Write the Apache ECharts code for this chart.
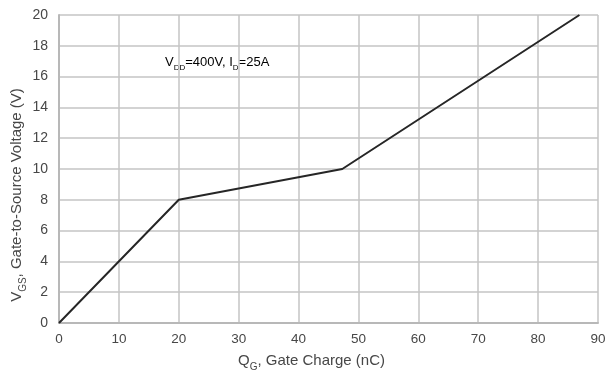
<!DOCTYPE html>
<html>
<head>
<meta charset="utf-8">
<script src="https://cdn.jsdelivr.net/npm/echarts@6/dist/echarts.min.js"></script>
<style>
  html, body { margin: 0; padding: 0; background: #fff; }
  #chart { width: 608px; height: 373px; }
</style>
</head>
<body>
<div id="chart"></div>
<script>
// gate charge curve
var chargeNC = [0, 20, 47.3, 86.9];
var voltageV = [0, 8, 10, 20];
var xTicks = [0, 10, 20, 30, 40, 50, 60, 70, 80, 90];
var yTicks = [0, 2, 4, 6, 8, 10, 12, 14, 16, 18, 20];

var points = chargeNC.map(function (q, i) { return [q, voltageV[i]]; });

var myChart = echarts.init(document.getElementById('chart'));

var font = 'Liberation Sans, Arial, sans-serif';
var txt = '#474747';
var sub = { fontSize: 10, fontFamily: font, color: txt, verticalAlign: 'bottom', padding: [0, 0, -4, 0] };

var option = {
    animation: false,
    grid: {
        left: 59,
        right: 10,
        top: 15,
        bottom: 50,
        outerBoundsMode: 'none',
        containLabel: false
    },
    xAxis: {
        type: 'value',
        min: xTicks[0],
        max: xTicks[xTicks.length - 1],
        interval: 10,
        name: '{a|Q}{s|G}{a|, Gate Charge (nC)}',
        nameLocation: 'middle',
        nameGap: 30,
        nameMoveOverlap: false,
        nameTextStyle: {
            padding: [0, 34, 0, 0],
            rich: {
                a: { fontSize: 15, fontFamily: font, color: txt },
                s: sub
            }
        },
        axisLine: { show: true, lineStyle: { color: '#b8b8b8', width: 2 } },
        axisTick: { show: false },
        axisLabel: { fontSize: 13.5, fontFamily: font, color: txt, margin: 9 },
        splitLine: { show: true, lineStyle: { color: '#c4c4c4', width: 1.5 } }
    },
    yAxis: {
        type: 'value',
        min: yTicks[0],
        max: yTicks[yTicks.length - 1],
        interval: 2,
        name: '{a|V}{s|GS}{a|, Gate-to-Source Voltage (V)}',
        nameLocation: 'middle',
        nameGap: 35,
        nameRotate: 90,
        nameMoveOverlap: false,
        nameTextStyle: {
            padding: [0, 52, 0, 0],
            rich: {
                a: { fontSize: 15, fontFamily: font, color: txt },
                s: sub
            }
        },
        axisLine: { show: true, lineStyle: { color: '#b8b8b8', width: 2 } },
        axisTick: { show: false },
        axisLabel: { fontSize: 14, fontFamily: font, color: txt, margin: 11 },
        splitLine: { show: true, lineStyle: { color: '#c4c4c4', width: 1.5 } }
    },
    graphic: [{
        type: 'text',
        left: 165,
        top: 56,
        style: {
            text: '{a|V}{s|DD}{a|=400V, I}{s|D}{a|=25A}',
            rich: {
                a: { fontSize: 13, fontFamily: font, color: txt },
                s: { fontSize: 8, fontFamily: font, color: txt, verticalAlign: 'bottom', padding: [0, 0, -3, 0] }
            }
        }
    }],
    series: [{
        type: 'line',
        data: points,
        showSymbol: false,
        lineStyle: { color: '#262626', width: 2 }
    }]
};

myChart.setOption(option);

window.addEventListener('resize', function () {
    myChart.resize();
});
</script>
</body>
</html>
